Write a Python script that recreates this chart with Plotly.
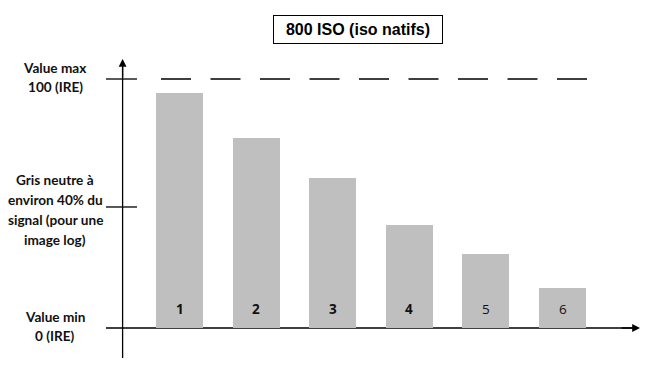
import plotly.graph_objects as go

# ---- data ----
categories = ["1", "2", "3", "4", "5", "6"]
values = [94.5, 76.4, 60.2, 41.4, 29.7, 16.1]   # IRE level of each bar
label_bold = [True, True, True, True, False, False]
max_level = 100.0        # "Value max 100 (IRE)"
grey_level = 48.6        # "Gris neutre" tick
min_level = 0.0
title_text = "800 ISO (iso natifs)"
left_labels = [
    ("Value max", 68), ("100 (IRE)", 87),
    ("Gris neutre à", 180), ("environ 40% du", 200),
    ("signal (pour une", 220), ("image log)", 240),
    ("Value min", 317), ("0 (IRE)", 336),
]

W, H = 667, 391
BAR_COLOR = "#bfbfbf"
xpos = list(range(1, len(categories) + 1))

fig = go.Figure()
fig.add_trace(go.Bar(
    x=xpos, y=values, width=0.613, marker=dict(color=BAR_COLOR, line=dict(width=0)),
    hoverinfo="skip", showlegend=False,
))
LABEL_Y = 7.6
for xi, c, b in zip(xpos, categories, label_bold):
    fig.add_annotation(x=xi, y=LABEL_Y, xref="x", yref="y", text=(f"<b>{c}</b>" if b else c),
                       xanchor="center", showarrow=False,
                       font=dict(family="Open Sans", size=13.5, color="#111111"))

def px(p):
    return p / W

def py(p):
    return 1 - p / H

shapes = []
# x-axis line (under bars)
shapes.append(dict(type="line", xref="paper", yref="y", x0=px(106), x1=px(632), y0=min_level, y1=min_level,
                   line=dict(color="black", width=1.3), layer="below"))
# y-axis line
shapes.append(dict(type="line", xref="paper", yref="paper", x0=px(122.6), x1=px(122.6), y0=py(358), y1=py(66),
                   line=dict(color="black", width=1.3), layer="below"))
# ticks
for lvl in (max_level, grey_level):
    shapes.append(dict(type="line", xref="paper", yref="y", x0=px(106), x1=px(137), y0=lvl, y1=lvl,
                       line=dict(color="black", width=1.3)))
# dashed max line
shapes.append(dict(type="line", xref="paper", yref="y", x0=px(161), x1=px(588), y0=max_level, y1=max_level,
                   line=dict(color="black", width=1.3, dash="30px,19.5px")))
fig.update_layout(shapes=shapes)

# arrow heads
fig.add_annotation(xref="paper", yref="paper", x=px(122.6), y=py(59), ax=0, ay=20, text="",
                   showarrow=True, arrowhead=2, arrowsize=1.2, arrowwidth=1.3, arrowcolor="black")
fig.add_annotation(xref="paper", yref="y", x=px(640), y=min_level, ax=-20, ay=0, text="",
                   showarrow=True, arrowhead=2, arrowsize=1.2, arrowwidth=1.3, arrowcolor="black")

# title box
fig.add_annotation(xref="paper", yref="paper", x=px(358), y=py(29.5), text=f"<b>{title_text}</b>",
                   xanchor="center", yanchor="middle",
                   showarrow=False, font=dict(family="Liberation Sans", size=16, color="black"),
                   width=166, height=25, bordercolor="black", borderwidth=1, borderpad=1,
                   bgcolor="white")

# left labels
for t, yp in left_labels:
    fig.add_annotation(xref="paper", yref="paper", x=px(55), y=py(yp), text=f"<b>{t}</b>",
                       xanchor="center", yanchor="middle", showarrow=False,
                       font=dict(family="Lato", size=13.6, color="#111111"))

scale = (328 - 79) / (max_level - min_level)   # px per IRE
y_lo = min_level - (H - 328) / scale
y_hi = min_level + 328 / scale
step = 76.6
x_lo = 1 - 179.5 / step
x_hi = 1 + (W - 179.5) / step

fig.update_layout(
    width=W, height=H, margin=dict(l=0, r=0, t=0, b=0),
    paper_bgcolor="white", plot_bgcolor="white",
    xaxis=dict(range=[x_lo, x_hi], visible=False, fixedrange=True),
    yaxis=dict(range=[y_lo, y_hi], visible=False, fixedrange=True),
    bargap=0,
)
fig.write_html("out.html", config={"displayModeBar": False})
